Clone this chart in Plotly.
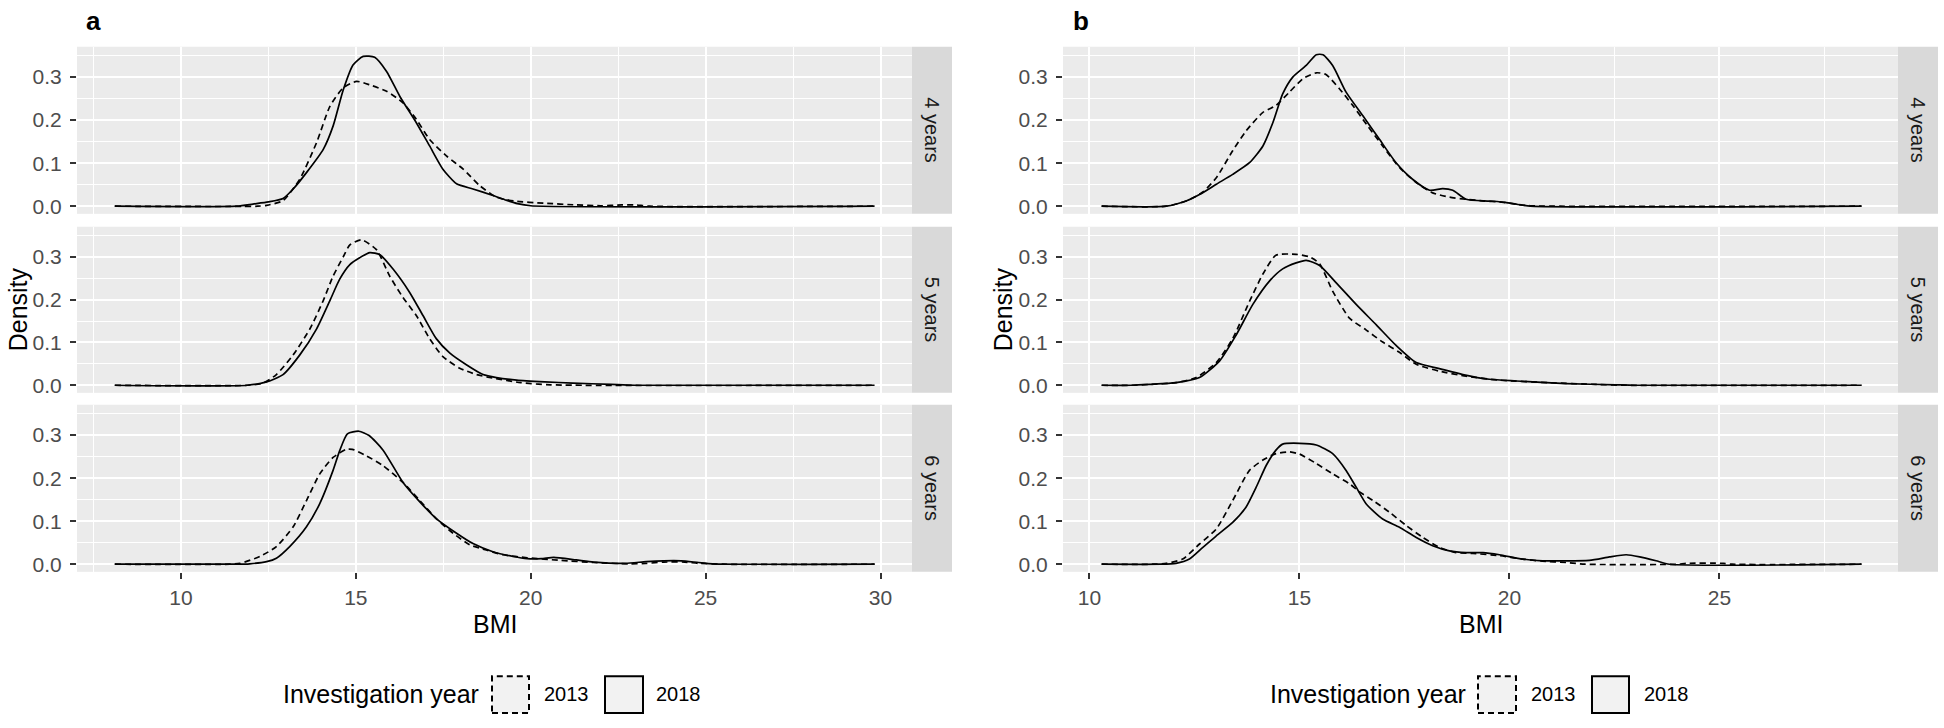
import plotly.graph_objects as go

# ---------------- data ----------------
PANELS = ["a", "b"]
FACETS = ["4 years", "5 years", "6 years"]
YEARS = ["2013", "2018"]
X_TICKS_A = [10, 15, 20, 25, 30]
X_TICKS_B = [10, 15, 20, 25]
Y_TICKS = [0.0, 0.1, 0.2, 0.3]

# Panel a
A4_2013_X = [8.11, 12.2, 12.45, 12.92, 13.4, 13.88, 14.26, 14.64, 15.02, 15.4, 15.88, 16.35, 16.73, 17.11, 17.59, 18.07, 18.54, 19.02, 19.53, 20.38, 21.3, 22.0, 22.6, 23.0, 23.4, 29.83]
A4_2013_Y = [0, 0, 0.002, 0.013, 0.063, 0.148, 0.232, 0.275, 0.29, 0.282, 0.267, 0.24, 0.202, 0.155, 0.117, 0.086, 0.048, 0.021, 0.012, 0.007, 0.003, 0.001, 0.003, 0.003, 0, 0]
A4_2018_X = [8.11, 11.6, 12.06, 12.5, 12.92, 13.21, 13.59, 14.07, 14.35, 14.64, 14.92, 15.21, 15.54, 15.88, 16.26, 16.73, 17.11, 17.49, 17.88, 18.35, 18.92, 19.3, 19.62, 20.0, 29.83]
A4_2018_Y = [0, 0, 0.005, 0.01, 0.018, 0.04, 0.078, 0.132, 0.186, 0.27, 0.328, 0.348, 0.346, 0.313, 0.255, 0.194, 0.14, 0.086, 0.052, 0.04, 0.025, 0.014, 0.006, 0.001, 0]

A5_2013_X = [8.11, 11.9, 12.35, 12.73, 13.21, 13.69, 14.07, 14.35, 14.64, 14.83, 15.16, 15.59, 15.97, 16.35, 16.73, 17.11, 17.49, 17.97, 18.45, 18.9, 19.72, 20.57, 29.83]
A5_2013_Y = [0, 0, 0.005, 0.025, 0.071, 0.132, 0.198, 0.255, 0.3, 0.328, 0.34, 0.317, 0.255, 0.205, 0.163, 0.109, 0.067, 0.04, 0.025, 0.017, 0.006, 0.001, 0]
A5_2018_X = [8.11, 11.9, 12.45, 12.92, 13.4, 13.88, 14.26, 14.54, 14.83, 15.11, 15.4, 15.69, 16.07, 16.54, 16.92, 17.3, 17.69, 18.16, 18.64, 19.02, 19.6, 20.4, 21.2, 22.3, 23.0, 29.83]
A5_2018_Y = [0, 0, 0.008, 0.025, 0.071, 0.132, 0.198, 0.248, 0.282, 0.298, 0.31, 0.305, 0.271, 0.217, 0.163, 0.109, 0.075, 0.048, 0.025, 0.018, 0.012, 0.008, 0.005, 0.002, 0, 0]

A6_2013_X = [8.11, 11.4, 11.69, 12.26, 12.73, 13.21, 13.59, 13.97, 14.35, 14.73, 14.9, 15.3, 15.78, 16.35, 16.83, 17.3, 17.78, 18.26, 18.73, 19.2, 19.9, 20.85, 21.8, 22.8, 23.3, 23.8, 24.4, 24.8, 25.5, 29.83]
A6_2013_Y = [0, 0, 0.002, 0.018, 0.041, 0.087, 0.148, 0.21, 0.248, 0.267, 0.267, 0.252, 0.229, 0.19, 0.148, 0.106, 0.072, 0.045, 0.033, 0.022, 0.015, 0.009, 0.004, 0.001, 0.002, 0.005, 0.005, 0.002, 0, 0]
A6_2018_X = [8.11, 11.6, 11.97, 12.45, 12.73, 13.11, 13.59, 13.97, 14.35, 14.54, 14.76, 15.09, 15.38, 15.78, 16.35, 16.83, 17.3, 17.88, 18.35, 18.92, 19.5, 19.9, 20.3, 20.66, 21.3, 21.8, 22.7, 23.3, 23.8, 24.3, 24.8, 25.2, 29.83]
A6_2018_Y = [0, 0, 0.001, 0.006, 0.014, 0.041, 0.087, 0.141, 0.218, 0.264, 0.303, 0.309, 0.299, 0.265, 0.19, 0.145, 0.106, 0.072, 0.048, 0.029, 0.018, 0.013, 0.013, 0.016, 0.01, 0.005, 0.002, 0.006, 0.008, 0.008, 0.004, 0.001, 0]

# Panel b
B4_2013_X = [10.29, 11.83, 12.3, 12.7, 13.02, 13.41, 13.73, 14.13, 14.44, 14.76, 15.08, 15.4, 15.63, 15.95, 16.27, 16.59, 16.98, 17.38, 17.78, 18.17, 18.57, 18.97, 19.4, 19.76, 20.2, 20.5, 28.38]
B4_2013_Y = [0, 0, 0.012, 0.033, 0.066, 0.129, 0.175, 0.218, 0.234, 0.265, 0.296, 0.31, 0.306, 0.273, 0.234, 0.191, 0.14, 0.09, 0.055, 0.031, 0.021, 0.016, 0.012, 0.01, 0.004, 0.001, 0]
B4_2018_X = [10.29, 11.83, 12.3, 12.62, 13.02, 13.41, 13.81, 14.13, 14.37, 14.6, 14.84, 15.16, 15.4, 15.56, 15.79, 16.11, 16.51, 16.9, 17.3, 17.7, 18.1, 18.41, 18.65, 18.97, 19.52, 19.9, 20.2, 20.5, 28.38]
B4_2018_Y = [0, 0, 0.012, 0.027, 0.051, 0.074, 0.101, 0.14, 0.195, 0.261, 0.3, 0.327, 0.352, 0.352, 0.327, 0.265, 0.21, 0.156, 0.101, 0.062, 0.037, 0.041, 0.037, 0.016, 0.012, 0.009, 0.004, 0, 0]

B5_2013_X = [10.29, 11.0, 11.43, 12.06, 12.54, 13.02, 13.41, 13.81, 14.13, 14.44, 14.92, 15.24, 15.48, 15.79, 16.19, 16.59, 16.98, 17.38, 17.78, 18.33, 18.97, 19.76, 20.95, 22.06, 22.8, 28.38]
B5_2013_Y = [0, 0, 0.002, 0.006, 0.018, 0.053, 0.109, 0.196, 0.26, 0.304, 0.306, 0.3, 0.284, 0.22, 0.157, 0.129, 0.101, 0.077, 0.049, 0.033, 0.021, 0.012, 0.006, 0.002, 0, 0]
B5_2018_X = [10.29, 11.0, 11.43, 12.06, 12.62, 13.1, 13.49, 13.89, 14.29, 14.6, 14.92, 15.16, 15.48, 15.87, 16.35, 16.83, 17.3, 17.78, 18.33, 18.89, 19.52, 20.16, 21.35, 22.54, 23.0, 28.38]
B5_2018_Y = [0, 0, 0.002, 0.006, 0.018, 0.057, 0.117, 0.189, 0.244, 0.272, 0.286, 0.292, 0.28, 0.24, 0.189, 0.141, 0.093, 0.053, 0.039, 0.025, 0.014, 0.01, 0.004, 0.001, 0, 0]

B6_2013_X = [10.29, 11.5, 11.83, 12.22, 12.62, 13.02, 13.41, 13.81, 14.13, 14.44, 14.76, 15.0, 15.4, 15.79, 16.19, 16.43, 16.75, 17.14, 17.54, 17.94, 18.33, 18.73, 19.13, 19.76, 20.31, 20.79, 21.35, 21.8, 24.0, 24.2, 25.1, 25.3, 28.38]
B6_2013_Y = [0, 0, 0.002, 0.012, 0.047, 0.082, 0.148, 0.218, 0.242, 0.257, 0.261, 0.256, 0.234, 0.21, 0.187, 0.168, 0.148, 0.121, 0.09, 0.062, 0.039, 0.027, 0.025, 0.02, 0.012, 0.007, 0.004, 0, 0, 0.002, 0.002, 0, 0]
B6_2018_X = [10.29, 11.7, 12.06, 12.38, 12.7, 13.02, 13.41, 13.73, 13.97, 14.21, 14.44, 14.6, 15.0, 15.4, 15.79, 16.11, 16.35, 16.59, 16.98, 17.38, 17.78, 18.17, 18.57, 18.97, 19.37, 19.76, 20.31, 20.79, 21.9, 22.38, 22.78, 23.1, 23.49, 23.81, 28.38]
B6_2018_Y = [0, 0, 0.002, 0.012, 0.039, 0.066, 0.097, 0.133, 0.179, 0.23, 0.265, 0.279, 0.281, 0.277, 0.257, 0.218, 0.179, 0.14, 0.105, 0.086, 0.062, 0.043, 0.031, 0.027, 0.027, 0.022, 0.012, 0.008, 0.009, 0.017, 0.022, 0.017, 0.008, 0, 0]

CURVES = {
    ("a", 0): [(A4_2013_X, A4_2013_Y), (A4_2018_X, A4_2018_Y)],
    ("a", 1): [(A5_2013_X, A5_2013_Y), (A5_2018_X, A5_2018_Y)],
    ("a", 2): [(A6_2013_X, A6_2013_Y), (A6_2018_X, A6_2018_Y)],
    ("b", 0): [(B4_2013_X, B4_2013_Y), (B4_2018_X, B4_2018_Y)],
    ("b", 1): [(B5_2013_X, B5_2013_Y), (B5_2018_X, B5_2018_Y)],
    ("b", 2): [(B6_2013_X, B6_2013_Y), (B6_2018_X, B6_2018_Y)],
}

# ---------------- layout geometry (window pixels) ----------------
W, H = 1944, 728
FONT = "Liberation Sans, Arial, sans-serif"
PANEL_X = {"a": (77, 912), "b": (1063, 1898)}
STRIP_W = 40
FACET_Y = [(47, 215), (228, 395), (407, 575)]
X_RANGE = {"a": [7.03, 30.9], "b": [9.37, 29.25]}
X_TICKS = {"a": X_TICKS_A, "b": X_TICKS_B}
Y_RANGE = [-0.0177, 0.3705]


def px(x):
    return x / W


def py(y):
    return 1 - y / H


fig = go.Figure()
layout = dict(
    width=W, height=H,
    margin=dict(l=0, r=0, t=0, b=0),
    paper_bgcolor="white",
    plot_bgcolor="#EBEBEB",
    showlegend=False,
    font=dict(family=FONT, color="#000000"),
)
shapes = []
annotations = []

idx = 0
for p in PANELS:
    x0, x1 = PANEL_X[p]
    for f, facet in enumerate(FACETS):
        idx += 1
        xa = "x" if idx == 1 else f"x{idx}"
        ya = "y" if idx == 1 else f"y{idx}"
        fy0, fy1 = FACET_Y[f]
        bottom = f == len(FACETS) - 1
        layout["xaxis" if idx == 1 else f"xaxis{idx}"] = dict(
            domain=[px(x0), px(x1)], anchor=ya, range=X_RANGE[p],
            tickvals=X_TICKS[p], showticklabels=bottom,
            ticks="outside" if bottom else "", ticklen=6, tickwidth=2, tickcolor="#333333",
            tickfont=dict(size=21, color="#4D4D4D", family=FONT),
            ticklabelstandoff=1,
            showgrid=True, gridcolor="white", gridwidth=2,
            minor=dict(tick0=0, dtick=2.5, showgrid=True, gridcolor="white", gridwidth=1, ticks=""),
            zeroline=False, showline=False, fixedrange=True,
        )
        layout["yaxis" if idx == 1 else f"yaxis{idx}"] = dict(
            domain=[py(fy1), py(fy0)], anchor=xa, range=Y_RANGE,
            tickvals=Y_TICKS, tickformat=".1f",
            ticks="outside", ticklen=6, tickwidth=2, tickcolor="#333333",
            tickfont=dict(size=21, color="#4D4D4D", family=FONT),
            ticklabelstandoff=4,
            showgrid=True, gridcolor="white", gridwidth=2,
            minor=dict(tick0=0, dtick=0.05, showgrid=True, gridcolor="white", gridwidth=1, ticks=""),
            zeroline=False, showline=False, fixedrange=True,
        )
        for (cx, cy), yr in zip(CURVES[(p, f)], YEARS):
            fig.add_trace(go.Scatter(
                x=cx, y=cy, mode="lines", xaxis=xa, yaxis=ya, name=yr,
                line=dict(color="black", width=1.7, shape="spline", smoothing=0.6,
                          dash="6px,4px" if yr == "2013" else "solid"),
                hoverinfo="skip",
            ))
        # strip
        shapes.append(dict(type="rect", xref="paper", yref="paper",
                           x0=px(x1), x1=px(x1 + STRIP_W), y0=py(fy1), y1=py(fy0),
                           fillcolor="#D9D9D9", line=dict(width=0), layer="below"))
        annotations.append(dict(xref="paper", yref="paper", x=px(x1 + STRIP_W / 2),
                                y=py((fy0 + fy1) / 2), text=facet, textangle=90,
                                showarrow=False, xanchor="center", yanchor="middle",
                                font=dict(size=20, color="#1A1A1A", family=FONT)))

# axis titles & panel labels
TITLE_POS = {"a": dict(dens_x=18, label_x=86), "b": dict(dens_x=1003, label_x=1073)}
for p in PANELS:
    x0, x1 = PANEL_X[p]
    annotations.append(dict(xref="paper", yref="paper", x=px(TITLE_POS[p]["dens_x"]),
                            y=py((FACET_Y[0][0] + FACET_Y[-1][1]) / 2), text="Density",
                            textangle=-90, showarrow=False, xanchor="center", yanchor="middle",
                            font=dict(size=25, color="#000000", family=FONT)))
    annotations.append(dict(xref="paper", yref="paper", x=px((x0 + x1) / 2), y=py(627),
                            text="BMI", showarrow=False, xanchor="center", yanchor="middle",
                            font=dict(size=25, color="#000000", family=FONT)))
    annotations.append(dict(xref="paper", yref="paper", x=px(TITLE_POS[p]["label_x"] - 2), y=py(21),
                            text=f"<b>{p}</b>", showarrow=False, xanchor="left", yanchor="middle",
                            font=dict(size=26, color="#000000", family=FONT)))

# legends (one under each panel)
LEGEND_POS = {
    "a": dict(title=281, keys=[(492, 529), (605, 643)], labels=[543, 655]),
    "b": dict(title=1268, keys=[(1478, 1516), (1592, 1629)], labels=[1530, 1643]),
}
LEG_Y0, LEG_Y1 = 680, 717
for p in PANELS:
    lp = LEGEND_POS[p]
    annotations.append(dict(xref="paper", yref="paper", x=px(lp["title"]), y=py(698),
                            text="Investigation year", showarrow=False, xanchor="left",
                            yanchor="middle", font=dict(size=25, color="#000000", family=FONT)))
    for yr, (k0, k1), lx in zip(YEARS, lp["keys"], lp["labels"]):
        shapes.append(dict(type="rect", xref="paper", yref="paper",
                           x0=px(k0), x1=px(k1), y0=py(LEG_Y1), y1=py(LEG_Y0),
                           fillcolor="#F2F2F2",
                           line=dict(color="black", width=2,
                                     dash="6px,4px" if yr == "2013" else "solid")))
        annotations.append(dict(xref="paper", yref="paper", x=px(lx - 1), y=py(698),
                                text=yr, showarrow=False, xanchor="left", yanchor="middle",
                                font=dict(size=20, color="#000000", family=FONT)))

layout["shapes"] = shapes
layout["annotations"] = annotations
fig.update_layout(**layout)
# remove the browser's default 8px page margin so the figure fills the window exactly
fig.write_html("out.html", config={"displayModeBar": False},
               post_script="document.body.style.margin='0';")
